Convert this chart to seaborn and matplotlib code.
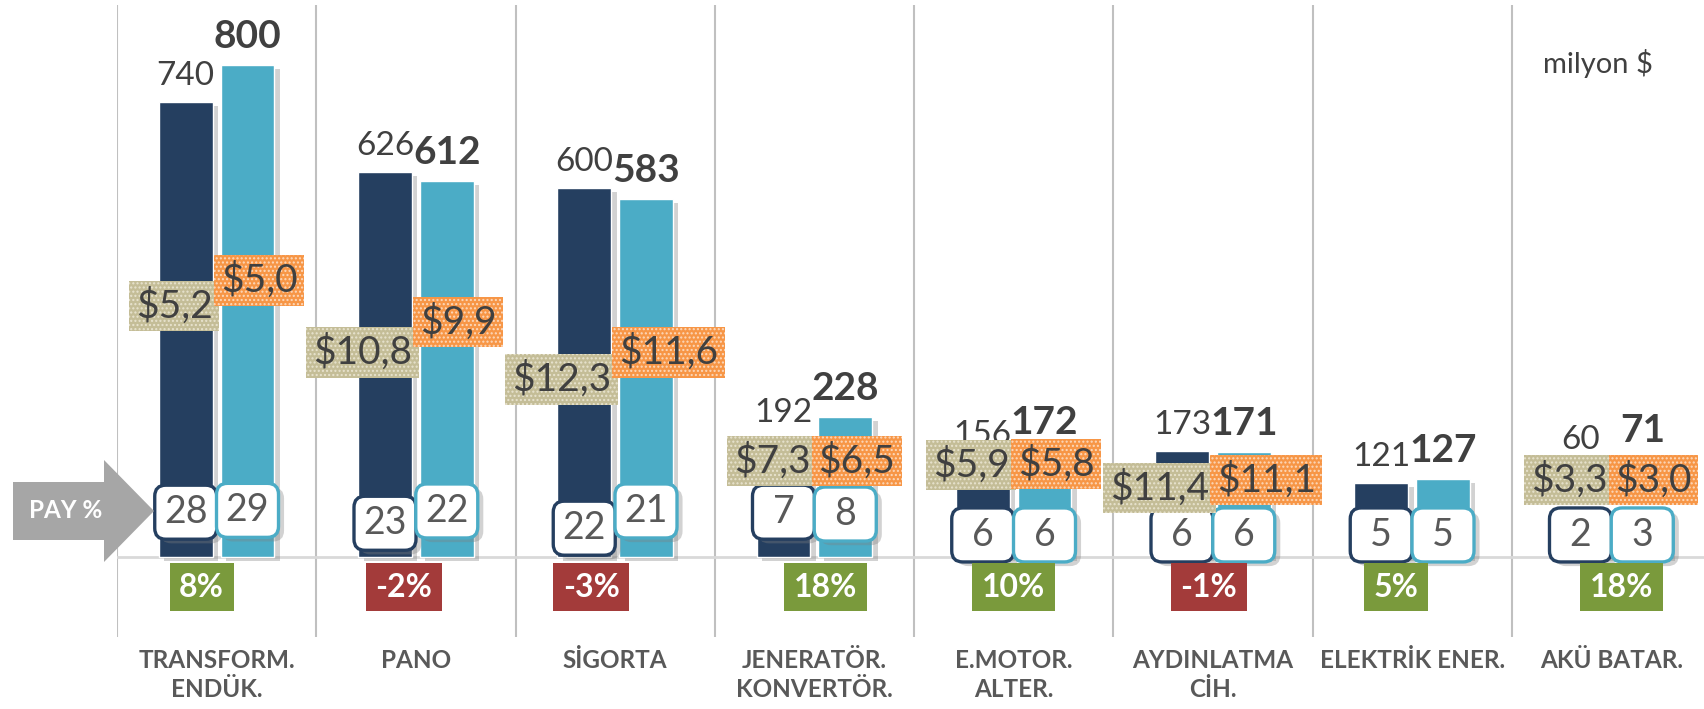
import numpy as np
import pandas as pd
import matplotlib.pyplot as plt
import matplotlib.patheffects as pe
from matplotlib.patches import FancyBboxPatch, Polygon
import seaborn as sns

# ─── Data ─────────────────────────────────────────────────────────────────────
categories = [
    "TRANSFORM.\nENDÜK.", "PANO", "SİGORTA", "JENERATÖR.\nKONVERTÖR.",
    "E.MOTOR.\nALTER.", "AYDINLATMA\nCİH.", "ELEKTRİK ENER.", "AKÜ BATAR.",
]
series = ["Önceki yıl", "Son yıl"]
prev_values = [740, 626, 600, 192, 156, 173, 121, 60]
curr_values = [800, 612, 583, 228, 172, 171, 127, 71]
prev_share = [28, 23, 22, 7, 6, 6, 5, 2]
curr_share = [29, 22, 21, 8, 6, 6, 5, 3]
growth = [8, -2, -3, 18, 10, -1, 5, 18]
prev_price = [5.2, 10.8, 12.3, 7.3, 5.9, 11.4, None, 3.3]
curr_price = [5.0, 9.9, 11.6, 6.5, 5.8, 11.1, None, 3.0]

# ─── Layout (hand placed label spots, like the original) ─────────────────────
PRICE_Y_PREV = [408, 333, 289, 156, 150, 112, None, 125]
PRICE_Y_CURR = [450, 382, 333, 156, 151, 125, None, 125]
SHARE_Y_PREV = [73, 55, 47, 73, 36, 36, 36, 36]
SHARE_Y_CURR = [76, 75, 75, 70, 36, 36, 36, 36]
VALUE_LIFT = [8, 8, 8, 8, 8, 8, 8, 47]          # points above bar top
GROWTH_DX = [-0.075, -0.06, -0.12, 0.055, 0, -0.02, -0.08, 0.05]
GROWTH_Y = -49

DARK = "#253f60"
LIGHT = "#4bacc6"
TEXT = "#404040"
W, H = 1704, 709
AX_L, AX_R, AX_T, AX_B = 117, 1711, 5, 637
Y_MIN, Y_MAX = -130, 898

sns.set_style("white")
plt.rcParams["font.family"] = ["Lato", "DejaVu Sans"]

df = pd.DataFrame({
    "kategori": categories * 2,
    "seri": [series[0]] * len(categories) + [series[1]] * len(categories),
    "deger": prev_values + curr_values,
})

fig = plt.figure(figsize=(W / 100, H / 100), dpi=100)
ax = fig.add_axes([AX_L / W, 1 - AX_B / H, (AX_R - AX_L) / W, (AX_B - AX_T) / H])

sns.barplot(data=df, x="kategori", y="deger", hue="seri", order=categories,
            hue_order=series, palette=[DARK, LIGHT], saturation=1,
            width=0.62, gap=0.13, legend=False, ax=ax, zorder=2)

ax.set_xlim(-0.5, len(categories) - 0.5)
ax.set_ylim(Y_MIN, Y_MAX)
sns.despine(ax=ax, left=True, bottom=True)
ax.set_yticks([])
ax.set_xlabel("")
ax.set_ylabel("")
ax.tick_params(axis="x", length=0, pad=9)
for lbl in ax.get_xticklabels():
    lbl.set_fontsize(17.5)
    lbl.set_fontweight("bold")
    lbl.set_color("#595959")
    lbl.set_linespacing(1.3)

for i in range(len(categories) + 1):
    ax.axvline(i - 0.5, color="#c0c0c0", lw=1.5, zorder=0)
ax.axhline(0, color="#d9d9d9", lw=2, zorder=1)

shadow = [pe.SimplePatchShadow(offset=(4, -3), shadow_rgbFace="#808080", alpha=0.35), pe.Normal()]
for bar in ax.patches:
    bar.set_path_effects(shadow)

# px per value unit, used to size the rounded share boxes
ppu_x = (AX_R - AX_L) / len(categories)
ppu_y = (AX_B - AX_T) / (Y_MAX - Y_MIN)
box_w = 62 / ppu_x
box_h = 54 / ppu_y

prev_bars, curr_bars = ax.containers[0], ax.containers[1]
for bars, vals, weight, size in [(prev_bars, prev_values, "normal", 24),
                                 (curr_bars, curr_values, "bold", 28)]:
    for bar, v, lift in zip(bars, vals, VALUE_LIFT):
        ax.annotate(f"{v}", (bar.get_x() + bar.get_width() / 2, bar.get_height()),
                    xytext=(0, lift), textcoords="offset points", ha="center",
                    va="bottom", fontsize=size, fontweight=weight, color=TEXT, zorder=5)

# share (PAY %) boxes
for bars, shares, ys, edge in [(prev_bars, prev_share, SHARE_Y_PREV, DARK),
                               (curr_bars, curr_share, SHARE_Y_CURR, LIGHT)]:
    for bar, s, y in zip(bars, shares, ys):
        cx = bar.get_x() + bar.get_width() / 2
        box = FancyBboxPatch((cx - box_w / 2, y - box_h / 2), box_w, box_h,
                             boxstyle=f"round,pad=0,rounding_size={11 / ppu_x}",
                             mutation_aspect=ppu_x / ppu_y, fc="white", ec=edge,
                             lw=2.4, zorder=6)
        box.set_path_effects(shadow)
        ax.add_patch(box)
        ax.text(cx, y, f"{s}", ha="center", va="center", fontsize=27,
                color="#595959", zorder=7)

# growth boxes under the baseline
for i, g in enumerate(growth):
    col = "#7a9a3c" if g >= 0 else "#a33b3a"
    ax.text(i + GROWTH_DX[i], GROWTH_Y, f"{g}%", ha="center", va="center",
            fontsize=23, fontweight="bold", color="white", zorder=6,
            bbox=dict(boxstyle="square,pad=0.3", fc=col, ec="none"))

# unit price tags
for i in range(len(categories)):
    if prev_price[i] is not None:
        ax.text(i - 0.02, PRICE_Y_PREV[i], f"${prev_price[i]:.1f}".replace(".", ","),
                ha="right", va="center", fontsize=28, color=TEXT, zorder=8,
                bbox=dict(boxstyle="square,pad=0.17", fc="#c4bd97", ec="#e8e3cf",
                          lw=0, hatch="...."))
    if curr_price[i] is not None:
        ax.text(i + 0.02, PRICE_Y_CURR[i], f"${curr_price[i]:.1f}".replace(".", ","),
                ha="left", va="center", fontsize=28, color=TEXT, zorder=8,
                bbox=dict(boxstyle="square,pad=0.17", fc="#f79646", ec="#fcd9bd",
                          lw=0, hatch="...."))

# PAY % arrow
pts = [(13, 482), (104, 482), (104, 460), (154, 511), (104, 562), (104, 540), (13, 540)]
arrow = Polygon([(x / W, 1 - y / H) for x, y in pts], closed=True,
                transform=fig.transFigure, fc="#a6a6a6", ec="none")
fig.add_artist(arrow)
fig.text(66 / W, 1 - 511 / H, "PAY %", ha="center", va="center", fontsize=17.5,
         fontweight="bold", color="white")

fig.text(1598 / W, 1 - 64 / H, "milyon $", ha="center", va="center",
         fontsize=21, color=TEXT)

fig.savefig("out.png", dpi=100)
